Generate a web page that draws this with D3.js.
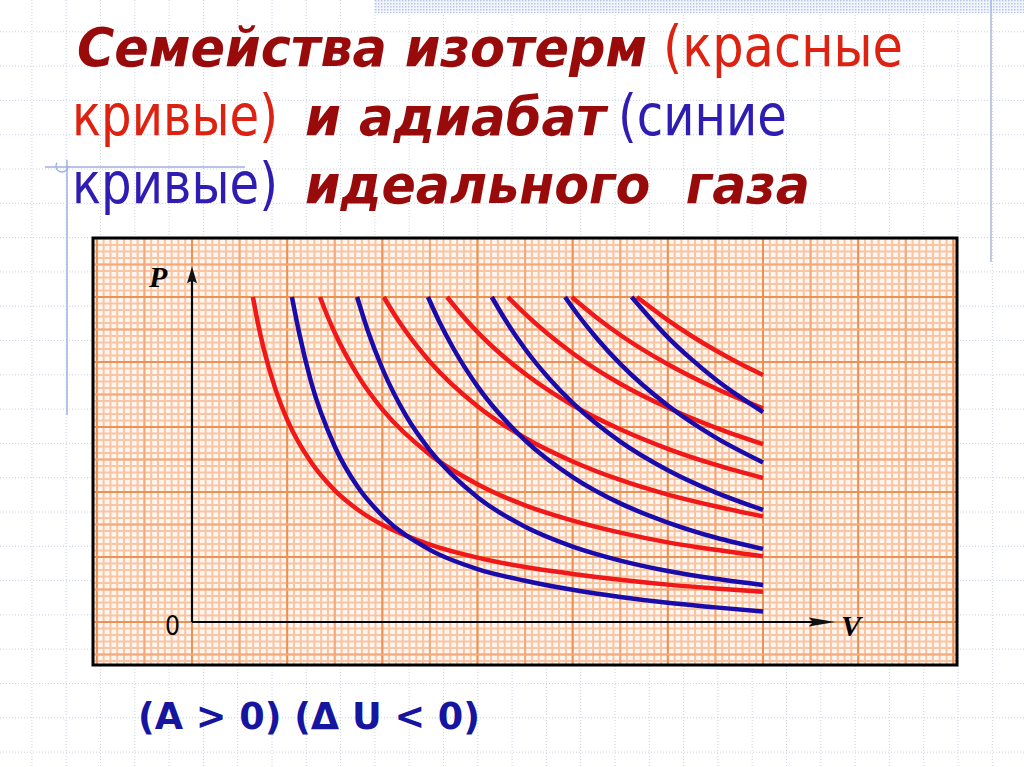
<!DOCTYPE html>
<html><head><meta charset="utf-8">
<script src="https://cdn.jsdelivr.net/npm/d3@7"></script>
<style>html,body{margin:0;padding:0;background:#fff;overflow:hidden}svg{display:block}</style>
</head><body>
<svg id="c" width="1024" height="767"></svg>
<script>
// ---------------- data (V, P) ----------------
const isotherm1 = [[1.28,10],[1.4,9.09],[1.5,8.45],[1.75,7.18],[2,6.23],[2.5,4.92],[3,4.05],[3.5,3.44],[4,2.99],[5,2.38],[6,1.98],[7,1.69],[8,1.48],[9,1.30],[10,1.15],[11,1.03],[12,0.93]];
const isotherm2 = [[2.69,10],[2.85,9.40],[3,8.90],[3.5,7.55],[4,6.54],[5,5.15],[6,4.24],[7,3.59],[8,3.12],[9,2.75],[10,2.45],[11,2.22],[12,2.02]];
const isotherm3 = [[4.03,10],[4.25,9.47],[4.5,8.93],[5,8.01],[6,6.64],[7,5.66],[8,4.94],[9,4.37],[10,3.92],[11,3.56],[12,3.25]];
const isotherm4 = [[5.36,10],[5.6,9.57],[6,8.92],[6.5,8.23],[7,7.64],[8,6.67],[9,5.93],[10,5.33],[11,4.84],[12,4.43]];
const isotherm5 = [[6.64,10],[7,9.48],[8,8.27],[9,7.33],[10,6.59],[11,5.98],[12,5.47]];
const isotherm6 = [[7.98,10],[8.5,9.37],[9,8.83],[10,7.93],[11,7.19],[12,6.57]];
const isotherm7 = [[9.35,10],[10,9.29],[10.5,8.80],[11,8.36],[11.5,7.96],[12,7.60]];

const adiabat1 = [[2.1,10],[2.25,8.91],[2.5,7.40],[3,5.40],[3.5,4.12],[4,3.27],[5,2.22],[6,1.63],[7,1.27],[8,0.99],[9,0.77],[10,0.59],[11,0.45],[12,0.32]];
const adiabat2 = [[3.47,10],[3.7,8.94],[4,7.80],[4.5,6.34],[5,5.28],[6,3.84],[7,2.93],[8,2.32],[9,1.89],[10,1.57],[11,1.33],[12,1.14]];
const adiabat3 = [[4.96,10],[5.2,9.23],[5.5,8.40],[6,7.25],[7,5.59],[8,4.46],[9,3.65],[10,3.06],[11,2.60],[12,2.25]];
const adiabat4 = [[6.3,10],[6.6,9.26],[7,8.40],[7.5,7.50],[8,6.74],[9,5.55],[10,4.67],[11,3.99],[12,3.45]];
const adiabat5 = [[7.84,10],[8.1,9.47],[8.5,8.74],[9,7.94],[10,6.66],[11,5.68],[12,4.91]];
const adiabat6 = [[9.24,10],[10,8.76],[10.5,8.08],[11,7.47],[11.5,6.94],[12,6.46]];

const isotherms = [isotherm1, isotherm2, isotherm3, isotherm4, isotherm5, isotherm6, isotherm7];
const adiabats  = [adiabat1, adiabat2, adiabat3, adiabat4, adiabat5, adiabat6];

const axisLabelX = "V";
const axisLabelY = "P";
const originLabel = "0";
const titleLines = [
  [{t:"Семейства изотерм", s:"b"}, {t:"(красные", s:"r"}],
  [{t:"кривые)", s:"r"}, {t:"и адиабат", s:"b"}, {t:"(синие", s:"u"}],
  [{t:"кривые)", s:"u"}, {t:"идеального\u00a0\u00a0газа", s:"b"}]
];
const bottomNote = "(A > 0) (\u0394 U < 0)";

// ---------------- layout ----------------
const W = 1024, H = 767;
const svg = d3.select("#c");

const x = d3.scaleLinear().domain([0, 12]).range([192, 763]);
const y = d3.scaleLinear().domain([0, 10]).range([622, 297]);

// slide background dotted grid
const bg = svg.append("g");
const step = 34.3;
for (let gx = step - 2.4; gx < W; gx += step)
  bg.append("line").attr("x1", gx).attr("x2", gx).attr("y1", 0).attr("y2", H)
    .attr("stroke", "#c9d2e6").attr("stroke-width", 1).attr("stroke-dasharray", "1,2");
for (let gy = step - 2.5; gy < H; gy += step)
  bg.append("line").attr("y1", gy).attr("y2", gy).attr("x1", 0).attr("x2", W)
    .attr("stroke", "#c9d2e6").attr("stroke-width", 1).attr("stroke-dasharray", "1,2");

// top band pattern
const defs = svg.append("defs");
const pat = defs.append("pattern").attr("id", "dots").attr("width", 3).attr("height", 3).attr("patternUnits", "userSpaceOnUse");
pat.append("rect").attr("width", 3).attr("height", 3).attr("fill", "#f2f5fb");
pat.append("rect").attr("width", 1.5).attr("height", 1.5).attr("fill", "#b8c6e6");
svg.append("rect").attr("x", 375).attr("y", 0).attr("width", W - 375).attr("height", 13).attr("fill", "url(#dots)");

// slide decorations
svg.append("line").attr("x1", 991).attr("x2", 991).attr("y1", 0).attr("y2", 262).attr("stroke", "#a9b7da").attr("stroke-width", 1.5);
svg.append("line").attr("x1", 45).attr("x2", 245).attr("y1", 167).attr("y2", 167).attr("stroke", "#9fb0df").attr("stroke-width", 1.5);
svg.append("line").attr("x1", 67).attr("x2", 67).attr("y1", 160).attr("y2", 415).attr("stroke", "#9fb0df").attr("stroke-width", 1.5);
svg.append("circle").attr("cx", 62).attr("cy", 166).attr("r", 6).attr("fill", "none").attr("stroke", "#9fb0df").attr("stroke-width", 1.3)
  .attr("stroke-dasharray", "22,20");

// ---------------- title ----------------
const styles = {
  b: {fill: "#990a0a", weight: "bold", style: "italic", size: 53},
  r: {fill: "#de2212", weight: "normal", style: "normal", size: 57},
  u: {fill: "#2f1db3", weight: "normal", style: "normal", size: 57}
};
// [x-start, width] of each segment, baselines
const segBoxes = [[[77, 570], [663, 240]], [[72, 206], [305, 301], [618, 169]], [[72, 206], [305, 505]]];
const baselines = [66, 135, 203];
titleLines.forEach((line, i) => {
  line.forEach((seg, j) => {
    const st = styles[seg.s];
    svg.append("text").attr("x", segBoxes[i][j][0]).attr("y", baselines[i])
      .attr("textLength", segBoxes[i][j][1]).attr("lengthAdjust", "spacingAndGlyphs")
      .attr("font-family", "'DejaVu Sans', Verdana, sans-serif")
      .attr("font-size", st.size).attr("font-weight", st.weight).attr("font-style", st.style)
      .attr("fill", st.fill).text(seg.t);
  });
});

// ---------------- chart: graph paper ----------------
const frame = {x0: 93, y0: 238, x1: 957, y1: 665};
defs.append("clipPath").attr("id", "paper").append("rect")
  .attr("x", frame.x0).attr("y", frame.y0).attr("width", frame.x1 - frame.x0).attr("height", frame.y1 - frame.y0);
const paper = svg.append("g").attr("clip-path", "url(#paper)");
paper.append("rect").attr("x", frame.x0).attr("y", frame.y0).attr("width", frame.x1 - frame.x0).attr("height", frame.y1 - frame.y0).attr("fill", "#fff6f0");

const vMin = x.invert(frame.x0) - 1, vMax = x.invert(frame.x1) + 1;
const pMin = y.invert(frame.y1) - 1, pMax = y.invert(frame.y0) + 1;
// minor
for (let k = Math.floor(vMin * 7); k <= vMax * 7; k++) {
  const v = k / 7;
  paper.append("line").attr("x1", x(v)).attr("x2", x(v)).attr("y1", frame.y0).attr("y2", frame.y1)
    .attr("stroke", "#f8c4a2").attr("stroke-width", 2);
}
for (let k = Math.floor(pMin * 5); k <= pMax * 5; k++) {
  const p = k / 5;
  paper.append("line").attr("y1", y(p)).attr("y2", y(p)).attr("x1", frame.x0).attr("x2", frame.x1)
    .attr("stroke", "#f8c4a2").attr("stroke-width", 2);
}
// major
d3.range(Math.floor(vMin), Math.ceil(vMax) + 1).forEach(v => {
  paper.append("line").attr("x1", x(v)).attr("x2", x(v)).attr("y1", frame.y0).attr("y2", frame.y1)
    .attr("stroke", v % 2 === 0 ? "#ee9052" : "#f3a97a").attr("stroke-width", 2);
});
d3.range(Math.floor(pMin), Math.ceil(pMax) + 1).forEach(p => {
  paper.append("line").attr("y1", y(p)).attr("y2", y(p)).attr("x1", frame.x0).attr("x2", frame.x1)
    .attr("stroke", p % 2 === 0 ? "#ee9052" : "#f3a97a").attr("stroke-width", 2);
});

// axes
const axisG = svg.append("g");
axisG.append("line").attr("x1", x(0)).attr("x2", x(0)).attr("y1", y(0)).attr("y2", y(10.75)).attr("stroke", "#000").attr("stroke-width", 2.2);
axisG.append("line").attr("x1", x(0)).attr("x2", x(13.2)).attr("y1", y(0)).attr("y2", y(0)).attr("stroke", "#000").attr("stroke-width", 2);
axisG.append("path").attr("d", `M${x(0)},${y(10.93)} L${x(0) - 5},${y(10.42)} L${x(0)},${y(10.5)} L${x(0) + 5},${y(10.42)} Z`).attr("fill", "#111");
axisG.append("path").attr("d", `M${x(13.52)},${y(0)} L${x(12.96)},${y(0) - 4.5} L${x(13.05)},${y(0)} L${x(12.96)},${y(0) + 4.5} Z`).attr("fill", "#111");

axisG.append("text").attr("x", 149).attr("y", 287).attr("font-family", "'Liberation Serif', serif").attr("font-style", "italic")
  .attr("font-weight", "bold").attr("font-size", 30).attr("fill", "#000").text(axisLabelY);
axisG.append("text").attr("x", 841).attr("y", 636).attr("font-family", "'Liberation Serif', serif").attr("font-style", "italic")
  .attr("font-weight", "bold").attr("font-size", 30).attr("fill", "#000").text(axisLabelX);
axisG.append("text").attr("x", 165).attr("y", 635).attr("font-family", "'DejaVu Sans', sans-serif")
  .attr("font-size", 26).attr("textLength", 15).attr("lengthAdjust", "spacingAndGlyphs").attr("fill", "#000").text(originLabel);

// curves
const line = d3.line().x(d => x(d[0])).y(d => y(d[1])).curve(d3.curveMonotoneX);
const curvesG = svg.append("g").attr("fill", "none").attr("stroke-width", 4.5).attr("stroke-linecap", "butt");
curvesG.selectAll(".iso").data(isotherms).join("path").attr("class", "iso").attr("d", line).attr("stroke", "#f01818");
curvesG.selectAll(".adi").data(adiabats).join("path").attr("class", "adi").attr("d", line).attr("stroke", "#1a0caa");

// frame
svg.append("rect").attr("x", frame.x0).attr("y", frame.y0).attr("width", frame.x1 - frame.x0).attr("height", frame.y1 - frame.y0)
  .attr("fill", "none").attr("stroke", "#000").attr("stroke-width", 3);

// bottom note
svg.append("text").attr("x", 138).attr("y", 729).attr("textLength", 342).attr("lengthAdjust", "spacingAndGlyphs")
  .attr("font-family", "'DejaVu Sans', Verdana, sans-serif").attr("font-weight", "bold").attr("font-size", 38)
  .attr("fill", "#1515a0").text(bottomNote);
</script>
</body></html>
